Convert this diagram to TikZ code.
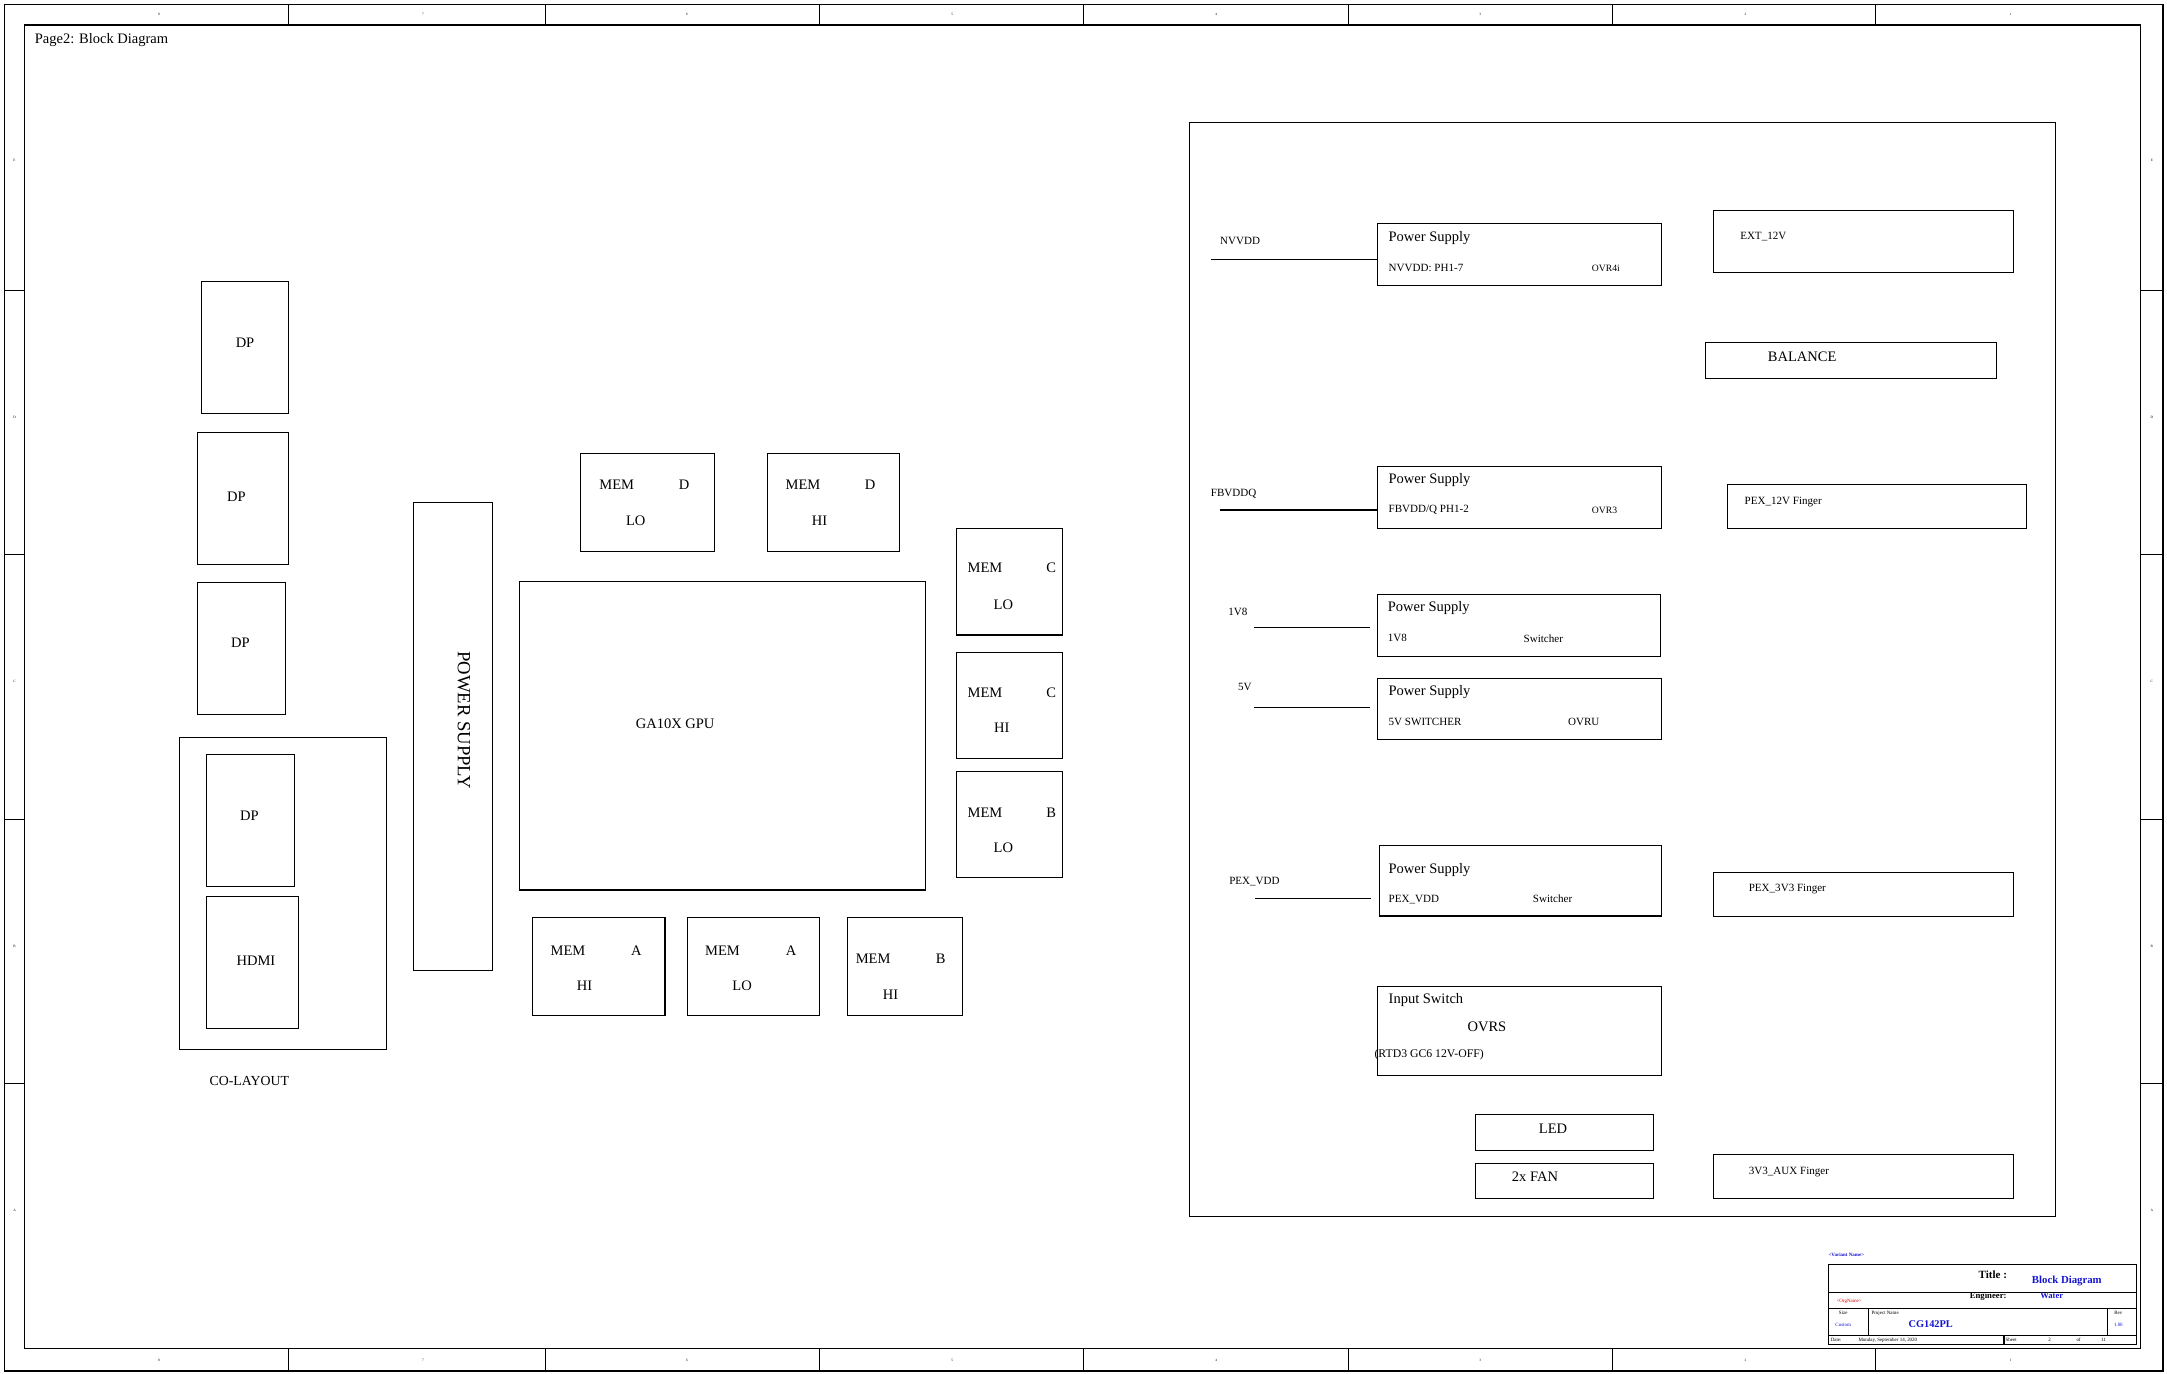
\documentclass[tikz,border=0pt]{standalone}
\usepackage{fontspec}
\setmainfont{Liberation Serif}
\usepackage{xcolor}

\definecolor{tbblue}{RGB}{20,20,210}
\definecolor{tbred}{RGB}{220,0,0}

\tikzset{
  blk/.style={draw,line width=0.8pt,inner sep=0pt},
  txt/.style={inner sep=0pt,font=\fontsize{10.5}{12}\selectfont},
  sml/.style={inner sep=0pt,font=\fontsize{8}{9}\selectfont},
  tny/.style={inner sep=0pt,font=\fontsize{3.6}{4}\selectfont},
  zon/.style={inner sep=0pt,font=\fontsize{2.5}{3}\selectfont},
  wire/.style={line width=0.8pt}
}

\begin{document}
\begin{tikzpicture}[x=1pt,y=-1pt]
            \useasboundingbox (0,0) rectangle (1568,994);

            % sheet frame
            \draw[line width=0.9pt] (3,3) rectangle (1565,992);
            \draw[line width=0.9pt] (18,18) rectangle (1549,976);
            \draw[wire] (209,3) -- (209,18) (395,3) -- (395,18) (593,3) -- (593,18) (784,3) -- (784,18)
                        (976,3) -- (976,18) (1167,3) -- (1167,18) (1357,3) -- (1357,18);
            \draw[wire] (209,976) -- (209,992) (395,976) -- (395,992) (593,976) -- (593,992) (784,976) -- (784,992)
                        (976,976) -- (976,992) (1167,976) -- (1167,992) (1357,976) -- (1357,992);
            \draw[wire] (3,210) -- (18,210) (3,401) -- (18,401) (3,593) -- (18,593) (3,784) -- (18,784);
            \draw[wire] (1549,210) -- (1565,210) (1549,401) -- (1565,401) (1549,593) -- (1565,593) (1549,784) -- (1565,784);

            \node (zt8) at (115,10.5) [zon] {8};
            \node (zt7) at (306,10.5) [zon] {7};
            \node (zt6) at (497,10.5) [zon] {6};
            \node (zt5) at (689,10.5) [zon] {5};
            \node (zt4) at (880,10.5) [zon] {4};
            \node (zt3) at (1071,10.5) [zon] {3};
            \node (zt2) at (1263,10.5) [zon] {2};
            \node (zt1) at (1455,10.5) [zon] {1};
            \node (zb8) at (115,984) [zon] {8};
            \node (zb7) at (306,984) [zon] {7};
            \node (zb6) at (497,984) [zon] {6};
            \node (zb5) at (689,984) [zon] {5};
            \node (zb4) at (880,984) [zon] {4};
            \node (zb3) at (1071,984) [zon] {3};
            \node (zb2) at (1263,984) [zon] {2};
            \node (zb1) at (1455,984) [zon] {1};
            \node (zle) at (10.5,116) [zon] {E};
            \node (zld) at (10.5,302) [zon] {D};
            \node (zlc) at (10.5,493) [zon] {C};
            \node (zlb) at (10.5,685) [zon] {B};
            \node (zla) at (10.5,876) [zon] {A};
            \node (zre) at (1557,116) [zon] {E};
            \node (zrd) at (1557,302) [zon] {D};
            \node (zrc) at (1557,493) [zon] {C};
            \node (zrb) at (1557,685) [zon] {B};
            \node (zra) at (1557,876) [zon] {A};

            \node (page) at (25,29) [txt,anchor=west] {Page2: Block Diagram};

            % outputs
            \node (dpa) at (177.5,251.5) [blk,minimum width=63,minimum height=95] {};
            \node (dpb) at (176,360.5) [blk,minimum width=66,minimum height=95.5] {};
            \node (dpc) at (174.8,469.5) [blk,minimum width=63.5,minimum height=95.5] {};
            \node (colay) at (204.8,646.5) [blk,minimum width=149.5,minimum height=226] {};
            \node (dpd) at (181.2,594) [blk,minimum width=63.7,minimum height=95.5] {};
            \node (hdmi) at (182.7,696.5) [blk,minimum width=66.7,minimum height=95.5] {};
            \node (dpat) at (177.3,247.8) [txt] {DP};
            \node (dpbt) at (171,359.6) [txt] {DP};
            \node (dpct) at (173.9,465) [txt] {DP};
            \node (dpdt) at (180.4,590) [txt] {DP};
            \node (hdmit) at (185.2,695) [txt] {HDMI};
            \node (colayt) at (180.4,782) [txt,font=\fontsize{10}{12}\selectfont] {CO-LAYOUT};

            % gpu and memory
            \node (pwr) at (327.8,533) [blk,minimum width=57.5,minimum height=339] {};
            \node (pwrt) at (335.7,521) [txt,font=\fontsize{13.5}{15}\selectfont,rotate=-90] {POWER SUPPLY};
            \node (gpu) at (522.8,532.5) [blk,minimum width=293.5,minimum height=223] {};
            \node (gput) at (488.5,523.5) [txt] {GA10X GPU};

            \node (memdlo) at (468.6,363.6) [blk,minimum width=96.8,minimum height=70.4] {};
            \node (memdhi) at (603.3,363.6) [blk,minimum width=95.5,minimum height=70.4] {};
            \node (memclo) at (730.5,421) [blk,minimum width=77,minimum height=77] {};
            \node (memchi) at (730.5,510.5) [blk,minimum width=77,minimum height=77] {};
            \node (memblo) at (730.5,596.5) [blk,minimum width=77,minimum height=77] {};
            \node (memahi) at (433.3,699.3) [blk,minimum width=95.8,minimum height=70.5] {};
            \node (memalo) at (545.2,699.3) [blk,minimum width=95.7,minimum height=70.5] {};
            \node (membhi) at (654.8,699.3) [blk,minimum width=83.5,minimum height=70.5] {};

            \node (m1a) at (446.3,350.7) [txt] {MEM};
            \node (m1b) at (495,350.7) [txt] {D};
            \node (m1c) at (460,376.6) [txt] {LO};
            \node (m2a) at (581,350.7) [txt] {MEM};
            \node (m2b) at (629.5,350.7) [txt] {D};
            \node (m2c) at (593,376.6) [txt] {HI};
            \node (m3a) at (712.7,411) [txt] {MEM};
            \node (m3b) at (760.7,411) [txt] {C};
            \node (m3c) at (726,437.8) [txt] {LO};
            \node (m4a) at (712.7,501.5) [txt] {MEM};
            \node (m4b) at (760.7,501.5) [txt] {C};
            \node (m4c) at (724.8,526.8) [txt] {HI};
            \node (m5a) at (712.7,588) [txt] {MEM};
            \node (m5b) at (760.7,588) [txt] {B};
            \node (m5c) at (726,613.6) [txt] {LO};
            \node (m6a) at (411,688) [txt] {MEM};
            \node (m6b) at (460.4,688) [txt] {A};
            \node (m6c) at (423,713.3) [txt] {HI};
            \node (m7a) at (522.8,688) [txt] {MEM};
            \node (m7b) at (572.4,688) [txt] {A};
            \node (m7c) at (537,713.3) [txt] {LO};
            \node (m8a) at (631.8,693.8) [txt] {MEM};
            \node (m8b) at (680.7,693.8) [txt] {B};
            \node (m8c) at (644.4,719.7) [txt] {HI};

            % power section
            \node (pwrblk) at (1174,484.7) [blk,minimum width=626,minimum height=791.5] {};

            \node (psnv) at (1099.5,184) [blk,minimum width=205,minimum height=44.8] {};
            \node (psfb) at (1099.5,360) [blk,minimum width=205,minimum height=44.6] {};
            \node (ps18) at (1099,452.5) [blk,minimum width=204.8,minimum height=45] {};
            \node (ps5) at (1099.5,513) [blk,minimum width=205,minimum height=44] {};
            \node (pspex) at (1100,637.4) [blk,minimum width=204,minimum height=50.8] {};
            \node (insw) at (1099.5,746) [blk,minimum width=205,minimum height=64] {};
            \node (led) at (1132,819.4) [blk,minimum width=129.3,minimum height=26.1] {};
            \node (fan) at (1132,854.5) [blk,minimum width=129.3,minimum height=25.3] {};
            \node (ext) at (1348.3,174.8) [blk,minimum width=217.1,minimum height=44.5] {};
            \node (bal) at (1339.4,260.9) [blk,minimum width=210.8,minimum height=25.7] {};
            \node (pex12) at (1358.3,366.4) [blk,minimum width=216.5,minimum height=31.9] {};
            \node (pex33) at (1348.3,647.3) [blk,minimum width=217.3,minimum height=31.5] {};
            \node (aux) at (1348.3,851.2) [blk,minimum width=217.3,minimum height=31.8] {};

            \node (nvl) at (897.3,174.4) [sml] {NVVDD};
            \node (fbl) at (876,357) [sml,anchor=west] {FBVDDQ};
            \node (v18l) at (888.6,442.6) [sml,anchor=west] {1V8};
            \node (v5l) at (895.6,497.3) [sml,anchor=west] {5V};
            \node (pexl) at (889.3,638) [sml,anchor=west] {PEX\_VDD};

            \coordinate (nvin) at (876,187.7);
            \coordinate (fbin) at (882.8,369);
            \coordinate (v18in) at (907.4,453.9);
            \coordinate (v18out) at (991.3,453.9);
            \coordinate (v5in) at (907.4,511.8);
            \coordinate (v5out) at (991.3,511.8);
            \coordinate (pexin) at (908,650);
            \coordinate (pexout) at (991.8,650);

            \draw[wire] (nvin) -- (nvin -| psnv.west);
            \draw[wire] (fbin) -- (fbin -| psfb.west);
            \draw[wire] (v18in) -- (v18out);
            \draw[wire] (v5in) -- (v5out);
            \draw[wire] (pexin) -- (pexout);

            \node (p1a) at (1004.6,172.5) [txt,anchor=west] {Power Supply};
            \node (p1b) at (1004.6,194) [sml,anchor=west] {NVVDD: PH1-7};
            \node (p1c) at (1151.7,194) [sml,anchor=west,font=\fontsize{7}{8}\selectfont] {OVR4i};
            \node (p2a) at (1004.6,347.3) [txt,anchor=west] {Power Supply};
            \node (p2b) at (1004.6,369) [sml,anchor=west] {FBVDD/Q PH1-2};
            \node (p2c) at (1151.7,369.6) [sml,anchor=west,font=\fontsize{7}{8}\selectfont] {OVR3};
            \node (p3a) at (1004,440.2) [txt,anchor=west] {Power Supply};
            \node (p3b) at (1004,461.9) [sml,anchor=west] {1V8};
            \node (p3c) at (1102.3,461.9) [sml,anchor=west] {Switcher};
            \node (p4a) at (1004.6,501) [txt,anchor=west] {Power Supply};
            \node (p4b) at (1004.6,522.4) [sml,anchor=west] {5V SWITCHER};
            \node (p4c) at (1134.4,522.4) [sml,anchor=west] {OVRU};
            \node (p5a) at (1004.6,629.5) [txt,anchor=west] {Power Supply};
            \node (p5b) at (1004.6,651.2) [sml,anchor=west] {PEX\_VDD};
            \node (p5c) at (1109,650) [sml,anchor=west] {Switcher};
            \node (p6a) at (1004.6,723.6) [txt,anchor=west] {Input Switch};
            \node (p6b) at (1061.7,743) [txt,anchor=west] {OVRS};
            \node (p6c) at (994.4,763.4) [sml,anchor=west,font=\fontsize{8.5}{10}\selectfont] {(RTD3 GC6 12V-OFF)};
            \node (ledt) at (1123.7,816.5) [txt] {LED};
            \node (fant) at (1110.7,851.4) [txt] {2x FAN};
            \node (extt) at (1259,171.3) [sml,anchor=west] {EXT\_12V};
            \node (balt) at (1304,258.1) [txt] {BALANCE};
            \node (pex12t) at (1262.2,363) [sml,anchor=west] {PEX\_12V Finger};
            \node (pex33t) at (1265.2,643.5) [sml,anchor=west] {PEX\_3V3 Finger};
            \node (auxt) at (1265.2,848.3) [sml,anchor=west] {3V3\_AUX Finger};

            % title block
            \node (ttl) at (1434.5,943.6) [blk,minimum width=223,minimum height=57.9] {};
            \draw[wire] (ttl.west |- 0,935) -- (ttl.east |- 0,935);
            \draw[wire] (ttl.west |- 0,946.6) -- (ttl.east |- 0,946.6);
            \draw[wire] (ttl.west |- 0,966.5) -- (ttl.east |- 0,966.5);
            \draw[wire] (1352,946.6) -- (1352,966.5) (1525,946.6) -- (1525,966.5) (1450,966.5) -- (1450,972.5);

            \node (tvar) at (1336,908) [tny,text=tbblue,font=\bfseries\fontsize{3.6}{4}\selectfont] {<Variant Name>};
            \node (ttitle) at (1442,922.6) [inner sep=0pt,font=\bfseries\fontsize{8}{9}\selectfont] {Title :};
            \node (tname) at (1495.5,926.7) [inner sep=0pt,text=tbblue,font=\bfseries\fontsize{7.8}{9}\selectfont] {Block Diagram};
            \node (torg) at (1338,941.4) [tny,text=tbred] {<OrgName>};
            \node (teng) at (1438.6,938) [inner sep=0pt,font=\bfseries\fontsize{6.3}{7}\selectfont] {Engineer:};
            \node (tengv) at (1484.6,937.8) [inner sep=0pt,text=tbblue,font=\bfseries\fontsize{6.2}{7}\selectfont] {Water};
            \node (tsize) at (1333.7,950) [tny] {Size};
            \node (tsizev) at (1333.7,959) [tny,text=tbblue] {Custom};
            \node (tproj) at (1354,950) [tny,anchor=west] {Project Name};
            \node (tprojv) at (1397,958) [inner sep=0pt,text=tbblue,font=\bfseries\fontsize{7.5}{8}\selectfont] {CG142PL};
            \node (trev) at (1532.8,950) [tny] {Rev};
            \node (trevv) at (1532.8,959) [tny,text=tbblue] {1.00};
            \node (tdate) at (1324.5,969.5) [tny,anchor=west] {Date:};
            \node (tdatev) at (1366,969.5) [tny] {Monday, September 14, 2020};
            \node (tsheet) at (1451,969.5) [tny,anchor=west] {Sheet};
            \node (tsheetv) at (1483,969.5) [tny] {2};
            \node (tof) at (1504,969.5) [tny] {of};
            \node (tofv) at (1522,969.5) [tny] {11};

        \end{tikzpicture}
\end{document}
